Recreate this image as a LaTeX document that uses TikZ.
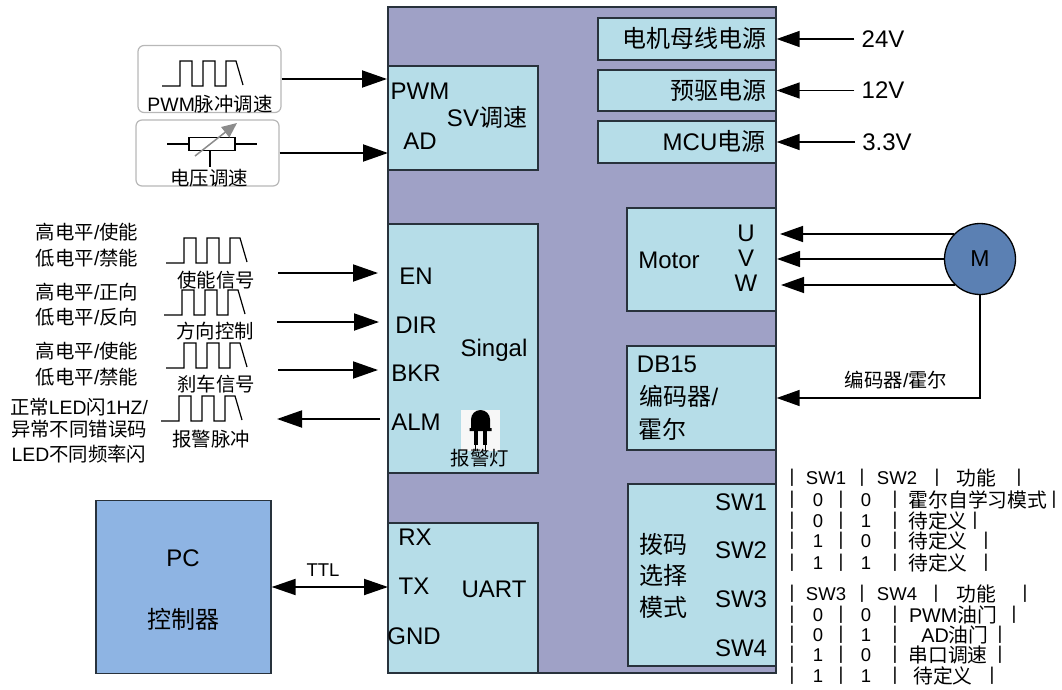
\documentclass[tikz,border=0pt]{standalone}
\usepackage{fontspec}
\setmainfont{Liberation Sans}
\newfontfamily\cjk{Noto Sans CJK SC}
\newcommand{\zh}[1]{{\cjk #1}}
\usetikzlibrary{arrows.meta}
\definecolor{mainfill}{HTML}{9FA1C6}
\definecolor{blockfill}{HTML}{B6DDE8}
\definecolor{pcfill}{HTML}{8EB4E3}
\definecolor{motorfill}{HTML}{5B80B3}
\definecolor{edgecol}{HTML}{28323C}
\tikzset{
  blockbox/.style={draw=edgecol,fill=blockfill,line width=1.3pt,inner sep=0pt},
  inputbox/.style={draw=black!28,fill=white,line width=1.2pt,rounded corners=6pt,minimum width=143pt,inner sep=0pt},
  biglab/.style={inner sep=0pt,font=\fontsize{24}{26}\selectfont},
  smalllab/.style={inner sep=0pt,font=\fontsize{19.4}{22}\selectfont},
  tablab/.style={inner sep=0pt,font=\fontsize{18.5}{21}\selectfont},
  tabzh/.style={inner sep=0pt,font=\fontsize{19.8}{22}\selectfont},
  voltlab/.style={biglab,inner xsep=7pt},
  sigline/.style={line width=1.9pt,-{Triangle[length=25pt,width=17pt]}},
  wireline/.style={line width=1.4pt,-{Triangle[length=23pt,width=16pt]}},
  pulsewave/.pic={\draw[line width=1.2pt] (0,0) -- (18,0) -- (18,-25) -- (30,-25) -- (30,0) -- (41,0) -- (41,-25) -- (53,-25) -- (53,0) -- (64,0) -- (64,-25) -- (74,-25) -- (81,-1);}
}
\begin{document}
\begin{tikzpicture}[x=1pt,y=-1pt]
  \useasboundingbox (0,0) rectangle (1062,690);
  \node[draw=edgecol,fill=mainfill,line width=1.3pt,minimum width=388pt,minimum height=666pt,inner sep=0pt] (main) at (582,340) {};

  \node[blockbox,minimum width=178pt,minimum height=42pt] (busbox) at (687,39) {};
  \node[blockbox,minimum width=178pt,minimum height=41pt] (drvbox) at (687,90.5) {};
  \node[blockbox,minimum width=178pt,minimum height=42pt] (mcubox) at (687,142) {};
  \node[blockbox,minimum width=150pt,minimum height=104pt] (svbox) at (463,118) {};
  \node[blockbox,minimum width=150pt,minimum height=249pt] (sigbox) at (463,348.5) {};
  \node[blockbox,minimum width=150pt,minimum height=150pt] (uartbox) at (463,598) {};
  \node[blockbox,minimum width=149pt,minimum height=103pt] (motorbox) at (701.5,259.5) {};
  \node[blockbox,minimum width=149pt,minimum height=104pt] (dbbox) at (701.5,398) {};
  \node[blockbox,minimum width=148pt,minimum height=182pt] (dipbox) at (702,575) {};
  \node[draw=edgecol,fill=pcfill,line width=1.3pt,minimum width=175pt,minimum height=173pt,inner sep=0pt] (pc) at (183.5,587) {};
  \node[draw=black,fill=motorfill,line width=1.3pt,circle,minimum size=71pt,inner sep=0pt,font=\fontsize{23}{26}\selectfont] (m) at (980,259) {M};

  \node[biglab] (bustxt) at (694,38) {\zh{电机母线电源}};
  \node[biglab] (drvtxt) at (718,90) {\zh{预驱电源}};
  \node[biglab] (mcutxt) at (714,141) {MCU\zh{电源}};
  \node[voltlab] (v24) at (883,39) {24V};
  \node[voltlab] (v12) at (883,90.5) {12V};
  \node[voltlab] (v33) at (887,142) {3.3V};
  \draw[wireline] (v24) -- (busbox);
  \draw[wireline] (v12) -- (drvbox);
  \draw[wireline] (v33) -- (mcubox);

  \node[biglab] (pwmtxt) at (420,91) {PWM};
  \node[biglab] (adtxt) at (420,141) {AD};
  \node[biglab] (svtxt) at (487,117) {SV\zh{调速}};
  \node[inputbox,minimum height=67pt] (pwmbox) at (209.5,79) {};
  \node[inputbox,minimum height=66pt] (potbox) at (207.5,153) {};
  \pic (pwmwave) at (162,86) {pulsewave};
  \node[smalllab] (pwmlab) at (210,104) {PWM\zh{脉冲调速}};
  \node[draw,line width=1.2pt,minimum width=46pt,minimum height=12.5pt,inner sep=0pt] (pot) at (212,144) {};
  \coordinate (potl) at (167,144);
  \coordinate (potr) at (257,144);
  \coordinate (pots) at (210,167);
  \coordinate (potfrom) at (195,156);
  \coordinate (potto) at (237,123);
  \draw[line width=1.2pt] (potl) -- (pot);
  \draw[line width=1.2pt] (pot) -- (potr);
  \draw[line width=1.2pt] (pot.south -| pots) -- (pots);
  \draw[black!45,line width=1.5pt,-{Triangle[length=15pt,width=13pt]}] (potfrom) -- (potto);
  \node[smalllab] (potlab) at (209,178) {\zh{电压调速}};
  \coordinate (pwmin) at (387,79);
  \coordinate (adin) at (388,153);
  \draw[sigline] (pwmbox) -- (pwmin);
  \draw[sigline] (potbox) -- (adin);

  \node[smalllab] (hi1) at (87,232) {\zh{高电平}/\zh{使能}};
  \node[smalllab] (lo1) at (87,258) {\zh{低电平}/\zh{禁能}};
  \node[smalllab] (hi2) at (87,292) {\zh{高电平}/\zh{正向}};
  \node[smalllab] (lo2) at (87,317) {\zh{低电平}/\zh{反向}};
  \node[smalllab] (hi3) at (87,351) {\zh{高电平}/\zh{使能}};
  \node[smalllab] (lo3) at (87,377) {\zh{低电平}/\zh{禁能}};
  \node[smalllab] (alm1) at (79,407) {\zh{正常}LED\zh{闪}1HZ/};
  \node[smalllab] (alm2) at (79,429) {\zh{异常不同错误码}};
  \node[smalllab] (alm3) at (79,454) {LED\zh{不同频率闪}};
  \pic (enwave) at (166,263) {pulsewave};
  \pic (dirwave) at (164,315) {pulsewave};
  \pic (bkrwave) at (166,368) {pulsewave};
  \pic (almwave) at (161,421) {pulsewave};
  \node[smalllab] (enlab) at (216,280) {\zh{使能信号}};
  \node[smalllab] (dirlab) at (215,331) {\zh{方向控制}};
  \node[smalllab] (bkrlab) at (216,384) {\zh{刹车信号}};
  \node[smalllab] (almlab) at (211,439) {\zh{报警脉冲}};

  \foreach \nm/\ya/\xa/\xb in {en/273/278/378,dir/322/277/379,bkr/370/278/378}{
    \coordinate (\nm from) at (\xa,\ya);
    \coordinate (\nm to) at (\xb,\ya);
    \draw[sigline] (\nm from) -- (\nm to);
  }
  \coordinate (almfrom) at (380,419);
  \coordinate (almto) at (277,419);
  \draw[sigline] (almfrom) -- (almto);

  \node[biglab] (entxt) at (416,276) {EN};
  \node[biglab] (dirtxt) at (416,325) {DIR};
  \node[biglab] (bkrtxt) at (416,373) {BKR};
  \node[biglab] (almtxt) at (416,422) {ALM};
  \node[biglab] (sigtxt) at (494,350) {Singal};
  \node[fill=white!97!black,minimum width=39pt,minimum height=41pt,inner sep=0pt] (ledbg) at (480.5,430.5) {};
  \fill (471,428) -- (471,419.5) arc[start angle=180,end angle=360,radius=9.5] -- (490,428) -- (491.5,428) -- (491.5,431) -- (469.5,431) -- (469.5,428) -- cycle;
  \fill (474,431) rectangle (478,445);
  \fill (483,431) rectangle (487,445);
  \draw[line width=.9pt] (475,445) -- (475,451);
  \draw[line width=.9pt] (485,445) -- (485,451);
  \node[smalllab] (ledlab) at (480,458) {\zh{报警灯}};

  \node[biglab] (rxtxt) at (415,537) {RX};
  \node[biglab] (txtxt) at (414,586) {TX};
  \node[biglab] (gndtxt) at (414,636) {GND};
  \node[biglab] (uarttxt) at (494,589) {UART};
  \node[biglab] (pctxt) at (183,558) {PC};
  \node[biglab] (ctltxt) at (183,619) {\zh{控制器}};
  \coordinate (txin) at (388,587);
  \draw[line width=1.9pt,{Triangle[length=24pt,width=16pt]}-{Triangle[length=24pt,width=16pt]}] (pc) -- (txin);
  \node[inner sep=0pt,font=\fontsize{18.5}{22}\selectfont] (ttl) at (323,570) {TTL};

  \node[biglab] (mottxt) at (669,260) {Motor};
  \node[biglab] (utxt) at (746,233) {U};
  \node[biglab] (vtxt) at (746,258) {V};
  \node[biglab] (wtxt) at (746,283) {W};
  \coordinate (uin) at (780,234);
  \coordinate (vin) at (777,259);
  \coordinate (win) at (781,285);
  \draw[wireline] (m.136 |- uin) -- (uin);
  \draw[wireline] (m.west) -- (vin);
  \draw[wireline] (m.226 |- win) -- (win);
  \draw[wireline] (m.south) |- (dbbox.east);
  \node[smalllab] (enclab) at (896,380) {\zh{编码器}/\zh{霍尔}};

  \node[biglab] (dbtxt) at (667,364) {DB15};
  \node[biglab] (enctxt) at (679,396) {\zh{编码器}/};
  \node[biglab] (halltxt) at (662,429) {\zh{霍尔}};
  \node[biglab] (diptxt1) at (663,544) {\zh{拨码}};
  \node[biglab] (diptxt2) at (663,575) {\zh{选择}};
  \node[biglab] (diptxt3) at (663,607) {\zh{模式}};
  \foreach \n/\ya in {1/502,2/550,3/599,4/648}
    \node[biglab] (sw\n) at (741,\ya) {SW\n};

  \foreach \rw/\ya/\swa/\swb/\xa/\xb/\fn/\xc in {hda/478/SW1/SW2/862/937/1019/976,hdb/594/SW3/SW4/862/936/1025/976}{
    \node[tablab] (\rw b1) at (792,\ya) {|};
    \node[tablab] (\rw a) at (826,\ya) {\swa};
    \node[tablab] (\rw b2) at (\xa,\ya) {|};
    \node[tablab] (\rw c) at (897,\ya) {\swb};
    \node[tablab] (\rw b3) at (\xb,\ya) {|};
    \node[tabzh] (\rw d) at (\xc,\ya) {\zh{功能}};
    \node[tablab] (\rw b4) at (\fn,\ya) {|};
  }
  \foreach \rw/\ya/\va/\vb/\tx/\xt/\xe in {
    ra/500/0/0/\zh{霍尔自学习模式}/978/1054,
    rb/521/0/1/\zh{待定义}/938/975,
    rc/541/1/0/\zh{待定义}/938/986,
    rd/563/1/1/\zh{待定义}/938/986,
    re/615/0/0/PWM\zh{油门}/953/1014,
    rf/635/0/1/AD\zh{油门}/955/1000,
    rg/655/1/0/\zh{串口调速}/948/1000,
    rh/676/1/1/\zh{待定义}/943/992}{
    \node[tablab] (\rw b1) at (792,\ya) {|};
    \node[tablab] (\rw a) at (818,\ya) {\va};
    \node[tablab] (\rw b2) at (841,\ya) {|};
    \node[tablab] (\rw c) at (866,\ya) {\vb};
    \node[tablab] (\rw b3) at (895,\ya) {|};
    \node[tabzh] (\rw d) at (\xt,\ya) {\tx};
    \node[tablab] (\rw b4) at (\xe,\ya) {|};
  }
\end{tikzpicture}
\end{document}
